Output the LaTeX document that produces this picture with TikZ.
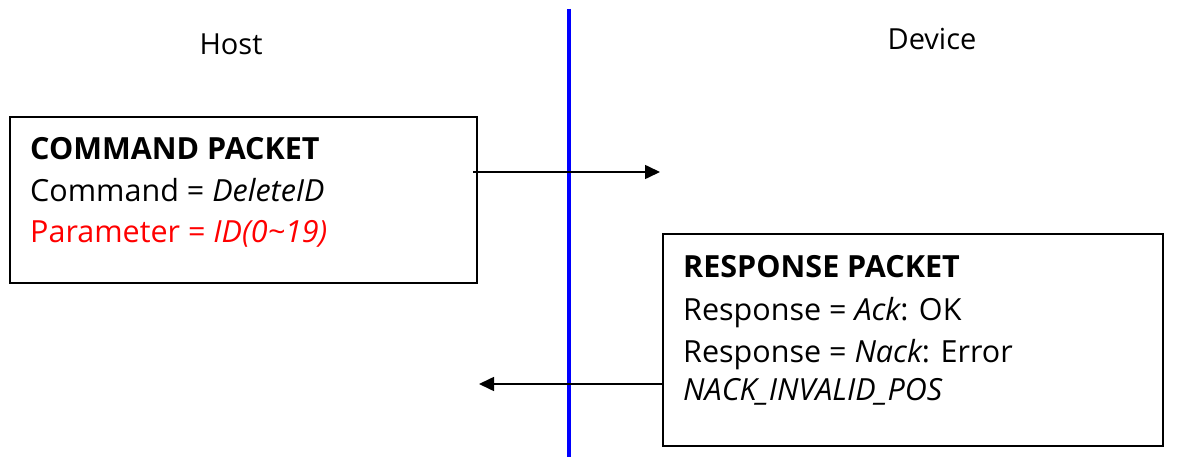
\documentclass[tikz,border=0pt]{standalone}
\usepackage{fontspec}
\setmainfont{Open Sans}
\usetikzlibrary{arrows.meta}
\begin{document}
\begin{tikzpicture}[x=1pt,y=-1pt,
  pbox/.style={draw=black,line width=1.6pt,inner sep=0pt,anchor=north west},
  txt/.style={anchor=base west,inner sep=0pt,font=\fontsize{30.5}{40}\selectfont},
  lbl/.style={anchor=base,inner sep=0pt,font=\fontsize{29}{34}\selectfont},
  msg/.style={line width=1.6pt,-{Triangle[length=15pt,width=14pt]}}]
\useasboundingbox (0,0) rectangle (1194,457);
% lifeline divider
\draw[blue,line width=3.5pt] (569,9) coordinate (ltop) -- (569,457) coordinate (lbot);
% labels
\node[lbl] (host) at (231,55) {Host};
\node[lbl] (device) at (932,50) {Device};
% command packet
\node[pbox,minimum width=467pt,minimum height=166pt] (cmd) at (9,116) {};
\node[txt] (c1) at (30,160) {\textbf{COMMAND PACKET}};
\node[txt] (c2) at (30,202) {Command = {\itshape DeleteID}};
\node[txt,text=red] (c3) at (30,243) {Parameter = {\itshape ID(0\string~19)}};
% response packet
\node[pbox,minimum width=500pt,minimum height=212pt] (rsp) at (662,233) {};
\node[txt] (r1) at (683,277) {\textbf{RESPONSE PACKET}};
\node[txt] (r2) at (683,320) {Response = {\itshape Ack}: OK};
\node[txt] (r3) at (683,362) {Response = {\itshape Nack}: Error};
\node[txt] (r4) at (683,400) {{\itshape NACK\_INVALID\_POS}};
% messages
\coordinate (a1s) at (473,172);
\coordinate (a1e) at (660,172);
\coordinate (a2s) at (rsp.west |- 0,384);
\coordinate (a2e) at (479,384);
\draw[msg] (a1s) -- (a1e);
\draw[msg] (a2s) -- (a2e);
\end{tikzpicture}
\end{document}
